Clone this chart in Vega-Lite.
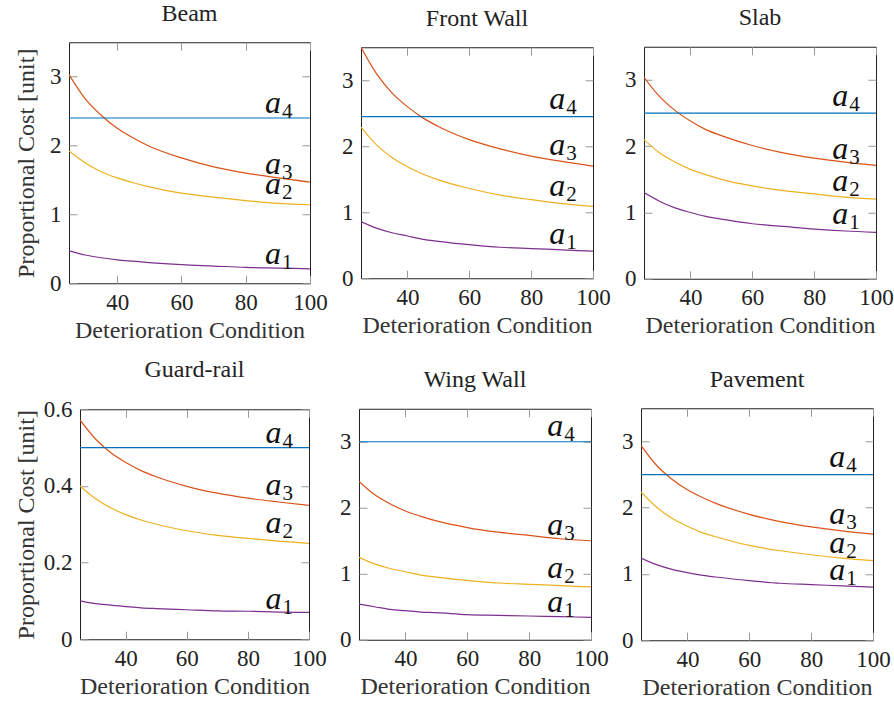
{
"$schema": "https://vega.github.io/schema/vega-lite/v6.json",
"background": "white",
"padding": {"left": 0, "top": 1, "right": 0, "bottom": 0},
"config": {
  "font": "Liberation Serif",
  "view": {"stroke": "#222222", "strokeWidth": 1},
  "axis": {"domain": false, "grid": false, "ticks": true, "offset": -8, "tickColor": "#999999", "tickSize": 8, "tickWidth": 1, "labelFont": "Liberation Serif", "labelFontSize": 23, "labelColor": "#222222", "labelFlush": false, "labelOverlap": false, "titleFont": "Liberation Serif", "titleFontSize": 24, "titleFontWeight": "normal", "titleColor": "#333333"},
  "axisX": {"labelPadding": 8, "titlePadding": 4},
  "axisY": {"labelPadding": 8, "titlePadding": 11},
  "title": {"font": "Liberation Serif", "fontSize": 24, "fontWeight": "normal", "color": "#222222", "offset": 16}
},
"datasets": {
"curves": [
{"p":"Beam","s":"a3","x":25,"y":3.03},{"p":"Beam","s":"a3","x":30,"y":2.68},{"p":"Beam","s":"a3","x":35,"y":2.44},{"p":"Beam","s":"a3","x":40,"y":2.25},{"p":"Beam","s":"a3","x":45,"y":2.11},{"p":"Beam","s":"a3","x":50,"y":1.99},{"p":"Beam","s":"a3","x":60,"y":1.82},{"p":"Beam","s":"a3","x":70,"y":1.69},{"p":"Beam","s":"a3","x":80,"y":1.60},{"p":"Beam","s":"a3","x":90,"y":1.53},{"p":"Beam","s":"a3","x":100,"y":1.47},
{"p":"Beam","s":"a2","x":25,"y":1.92},{"p":"Beam","s":"a2","x":30,"y":1.75},{"p":"Beam","s":"a2","x":35,"y":1.62},{"p":"Beam","s":"a2","x":40,"y":1.53},{"p":"Beam","s":"a2","x":45,"y":1.46},{"p":"Beam","s":"a2","x":50,"y":1.40},{"p":"Beam","s":"a2","x":60,"y":1.31},{"p":"Beam","s":"a2","x":70,"y":1.25},{"p":"Beam","s":"a2","x":80,"y":1.20},{"p":"Beam","s":"a2","x":90,"y":1.16},{"p":"Beam","s":"a2","x":100,"y":1.14},
{"p":"Beam","s":"a1","x":25,"y":0.47},{"p":"Beam","s":"a1","x":30,"y":0.41},{"p":"Beam","s":"a1","x":35,"y":0.37},{"p":"Beam","s":"a1","x":40,"y":0.34},{"p":"Beam","s":"a1","x":45,"y":0.32},{"p":"Beam","s":"a1","x":50,"y":0.30},{"p":"Beam","s":"a1","x":60,"y":0.27},{"p":"Beam","s":"a1","x":70,"y":0.25},{"p":"Beam","s":"a1","x":80,"y":0.23},{"p":"Beam","s":"a1","x":90,"y":0.22},{"p":"Beam","s":"a1","x":100,"y":0.21},
{"p":"Beam","s":"a4","x":25,"y":2.4},{"p":"Beam","s":"a4","x":100,"y":2.4},
{"p":"FW","s":"a3","x":25,"y":3.5},{"p":"FW","s":"a3","x":30,"y":3.1},{"p":"FW","s":"a3","x":35,"y":2.81},{"p":"FW","s":"a3","x":40,"y":2.6},{"p":"FW","s":"a3","x":45,"y":2.43},{"p":"FW","s":"a3","x":50,"y":2.3},{"p":"FW","s":"a3","x":60,"y":2.1},{"p":"FW","s":"a3","x":70,"y":1.96},{"p":"FW","s":"a3","x":80,"y":1.85},{"p":"FW","s":"a3","x":90,"y":1.77},{"p":"FW","s":"a3","x":100,"y":1.7},
{"p":"FW","s":"a2","x":25,"y":2.29},{"p":"FW","s":"a2","x":30,"y":2.02},{"p":"FW","s":"a2","x":35,"y":1.83},{"p":"FW","s":"a2","x":40,"y":1.69},{"p":"FW","s":"a2","x":45,"y":1.58},{"p":"FW","s":"a2","x":50,"y":1.49},{"p":"FW","s":"a2","x":60,"y":1.36},{"p":"FW","s":"a2","x":70,"y":1.26},{"p":"FW","s":"a2","x":80,"y":1.19},{"p":"FW","s":"a2","x":90,"y":1.13},{"p":"FW","s":"a2","x":100,"y":1.09},
{"p":"FW","s":"a1","x":25,"y":0.86},{"p":"FW","s":"a1","x":30,"y":0.76},{"p":"FW","s":"a1","x":35,"y":0.69},{"p":"FW","s":"a1","x":40,"y":0.64},{"p":"FW","s":"a1","x":45,"y":0.59},{"p":"FW","s":"a1","x":50,"y":0.56},{"p":"FW","s":"a1","x":60,"y":0.51},{"p":"FW","s":"a1","x":70,"y":0.47},{"p":"FW","s":"a1","x":80,"y":0.45},{"p":"FW","s":"a1","x":90,"y":0.43},{"p":"FW","s":"a1","x":100,"y":0.41},
{"p":"FW","s":"a4","x":25,"y":2.45},{"p":"FW","s":"a4","x":100,"y":2.45},
{"p":"Slab","s":"a3","x":25,"y":3.04},{"p":"Slab","s":"a3","x":30,"y":2.75},{"p":"Slab","s":"a3","x":35,"y":2.54},{"p":"Slab","s":"a3","x":40,"y":2.38},{"p":"Slab","s":"a3","x":45,"y":2.25},{"p":"Slab","s":"a3","x":50,"y":2.16},{"p":"Slab","s":"a3","x":60,"y":2.01},{"p":"Slab","s":"a3","x":70,"y":1.90},{"p":"Slab","s":"a3","x":80,"y":1.82},{"p":"Slab","s":"a3","x":90,"y":1.76},{"p":"Slab","s":"a3","x":100,"y":1.71},
{"p":"Slab","s":"a2","x":25,"y":2.1},{"p":"Slab","s":"a2","x":30,"y":1.9},{"p":"Slab","s":"a2","x":35,"y":1.76},{"p":"Slab","s":"a2","x":40,"y":1.65},{"p":"Slab","s":"a2","x":45,"y":1.57},{"p":"Slab","s":"a2","x":50,"y":1.5},{"p":"Slab","s":"a2","x":60,"y":1.4},{"p":"Slab","s":"a2","x":70,"y":1.33},{"p":"Slab","s":"a2","x":80,"y":1.28},{"p":"Slab","s":"a2","x":90,"y":1.23},{"p":"Slab","s":"a2","x":100,"y":1.2},
{"p":"Slab","s":"a1","x":25,"y":1.3},{"p":"Slab","s":"a1","x":30,"y":1.17},{"p":"Slab","s":"a1","x":35,"y":1.07},{"p":"Slab","s":"a1","x":40,"y":1.0},{"p":"Slab","s":"a1","x":45,"y":0.94},{"p":"Slab","s":"a1","x":50,"y":0.9},{"p":"Slab","s":"a1","x":60,"y":0.83},{"p":"Slab","s":"a1","x":70,"y":0.79},{"p":"Slab","s":"a1","x":80,"y":0.75},{"p":"Slab","s":"a1","x":90,"y":0.72},{"p":"Slab","s":"a1","x":100,"y":0.7},
{"p":"Slab","s":"a4","x":25,"y":2.5},{"p":"Slab","s":"a4","x":100,"y":2.5},
{"p":"GR","s":"a3","x":25,"y":0.572},{"p":"GR","s":"a3","x":30,"y":0.523},{"p":"GR","s":"a3","x":35,"y":0.487},{"p":"GR","s":"a3","x":40,"y":0.461},{"p":"GR","s":"a3","x":45,"y":0.440},{"p":"GR","s":"a3","x":50,"y":0.424},{"p":"GR","s":"a3","x":60,"y":0.399},{"p":"GR","s":"a3","x":70,"y":0.381},{"p":"GR","s":"a3","x":80,"y":0.368},{"p":"GR","s":"a3","x":90,"y":0.358},{"p":"GR","s":"a3","x":100,"y":0.349},
{"p":"GR","s":"a2","x":25,"y":0.4},{"p":"GR","s":"a2","x":30,"y":0.367},{"p":"GR","s":"a2","x":35,"y":0.343},{"p":"GR","s":"a2","x":40,"y":0.325},{"p":"GR","s":"a2","x":45,"y":0.311},{"p":"GR","s":"a2","x":50,"y":0.3},{"p":"GR","s":"a2","x":60,"y":0.283},{"p":"GR","s":"a2","x":70,"y":0.271},{"p":"GR","s":"a2","x":80,"y":0.263},{"p":"GR","s":"a2","x":90,"y":0.256},{"p":"GR","s":"a2","x":100,"y":0.25},
{"p":"GR","s":"a1","x":25,"y":0.1},{"p":"GR","s":"a1","x":30,"y":0.093},{"p":"GR","s":"a1","x":35,"y":0.089},{"p":"GR","s":"a1","x":40,"y":0.085},{"p":"GR","s":"a1","x":45,"y":0.082},{"p":"GR","s":"a1","x":50,"y":0.08},{"p":"GR","s":"a1","x":60,"y":0.077},{"p":"GR","s":"a1","x":70,"y":0.074},{"p":"GR","s":"a1","x":80,"y":0.073},{"p":"GR","s":"a1","x":90,"y":0.071},{"p":"GR","s":"a1","x":100,"y":0.07},
{"p":"GR","s":"a4","x":25,"y":0.5},{"p":"GR","s":"a4","x":100,"y":0.5},
{"p":"WW","s":"a3","x":25,"y":2.4},{"p":"WW","s":"a3","x":30,"y":2.2},{"p":"WW","s":"a3","x":35,"y":2.06},{"p":"WW","s":"a3","x":40,"y":1.95},{"p":"WW","s":"a3","x":45,"y":1.87},{"p":"WW","s":"a3","x":50,"y":1.8},{"p":"WW","s":"a3","x":60,"y":1.7},{"p":"WW","s":"a3","x":70,"y":1.63},{"p":"WW","s":"a3","x":80,"y":1.58},{"p":"WW","s":"a3","x":90,"y":1.53},{"p":"WW","s":"a3","x":100,"y":1.5},
{"p":"WW","s":"a2","x":25,"y":1.25},{"p":"WW","s":"a2","x":30,"y":1.15},{"p":"WW","s":"a2","x":35,"y":1.08},{"p":"WW","s":"a2","x":40,"y":1.03},{"p":"WW","s":"a2","x":45,"y":0.98},{"p":"WW","s":"a2","x":50,"y":0.95},{"p":"WW","s":"a2","x":60,"y":0.9},{"p":"WW","s":"a2","x":70,"y":0.86},{"p":"WW","s":"a2","x":80,"y":0.84},{"p":"WW","s":"a2","x":90,"y":0.82},{"p":"WW","s":"a2","x":100,"y":0.8},
{"p":"WW","s":"a1","x":25,"y":0.54},{"p":"WW","s":"a1","x":30,"y":0.50},{"p":"WW","s":"a1","x":35,"y":0.46},{"p":"WW","s":"a1","x":40,"y":0.44},{"p":"WW","s":"a1","x":45,"y":0.42},{"p":"WW","s":"a1","x":50,"y":0.41},{"p":"WW","s":"a1","x":60,"y":0.38},{"p":"WW","s":"a1","x":70,"y":0.37},{"p":"WW","s":"a1","x":80,"y":0.36},{"p":"WW","s":"a1","x":90,"y":0.35},{"p":"WW","s":"a1","x":100,"y":0.34},
{"p":"WW","s":"a4","x":25,"y":3.0},{"p":"WW","s":"a4","x":100,"y":3.0},
{"p":"Pav","s":"a3","x":25,"y":2.94},{"p":"Pav","s":"a3","x":30,"y":2.64},{"p":"Pav","s":"a3","x":35,"y":2.43},{"p":"Pav","s":"a3","x":40,"y":2.27},{"p":"Pav","s":"a3","x":45,"y":2.15},{"p":"Pav","s":"a3","x":50,"y":2.05},{"p":"Pav","s":"a3","x":60,"y":1.90},{"p":"Pav","s":"a3","x":70,"y":1.79},{"p":"Pav","s":"a3","x":80,"y":1.71},{"p":"Pav","s":"a3","x":90,"y":1.65},{"p":"Pav","s":"a3","x":100,"y":1.60},
{"p":"Pav","s":"a2","x":25,"y":2.24},{"p":"Pav","s":"a2","x":30,"y":2.01},{"p":"Pav","s":"a2","x":35,"y":1.84},{"p":"Pav","s":"a2","x":40,"y":1.72},{"p":"Pav","s":"a2","x":45,"y":1.62},{"p":"Pav","s":"a2","x":50,"y":1.55},{"p":"Pav","s":"a2","x":60,"y":1.43},{"p":"Pav","s":"a2","x":70,"y":1.35},{"p":"Pav","s":"a2","x":80,"y":1.29},{"p":"Pav","s":"a2","x":90,"y":1.24},{"p":"Pav","s":"a2","x":100,"y":1.20},
{"p":"Pav","s":"a1","x":25,"y":1.24},{"p":"Pav","s":"a1","x":30,"y":1.14},{"p":"Pav","s":"a1","x":35,"y":1.07},{"p":"Pav","s":"a1","x":40,"y":1.02},{"p":"Pav","s":"a1","x":45,"y":0.98},{"p":"Pav","s":"a1","x":50,"y":0.95},{"p":"Pav","s":"a1","x":60,"y":0.90},{"p":"Pav","s":"a1","x":70,"y":0.86},{"p":"Pav","s":"a1","x":80,"y":0.84},{"p":"Pav","s":"a1","x":90,"y":0.82},{"p":"Pav","s":"a1","x":100,"y":0.80},
{"p":"Pav","s":"a4","x":25,"y":2.5},{"p":"Pav","s":"a4","x":100,"y":2.5}
],
"labels": [
{"p":"Beam","n":"4","x":91,"y":2.47},{"p":"Beam","n":"3","x":91,"y":1.59},{"p":"Beam","n":"2","x":91,"y":1.30},{"p":"Beam","n":"1","x":91,"y":0.285},
{"p":"FW","n":"4","x":91,"y":2.56},{"p":"FW","n":"3","x":91,"y":1.87},{"p":"FW","n":"2","x":91,"y":1.25},{"p":"FW","n":"1","x":91,"y":0.515},
{"p":"Slab","n":"4","x":91,"y":2.61},{"p":"Slab","n":"3","x":91,"y":1.81},{"p":"Slab","n":"2","x":91,"y":1.32},{"p":"Slab","n":"1","x":91,"y":0.83},
{"p":"GR","n":"4","x":91,"y":0.511},{"p":"GR","n":"3","x":91,"y":0.376},{"p":"GR","n":"2","x":91,"y":0.278},{"p":"GR","n":"1","x":91,"y":0.080},
{"p":"WW","n":"4","x":91,"y":3.08},{"p":"WW","n":"3","x":91,"y":1.59},{"p":"WW","n":"2","x":91,"y":0.93},{"p":"WW","n":"1","x":91,"y":0.42},
{"p":"Pav","n":"4","x":91,"y":2.61},{"p":"Pav","n":"3","x":91,"y":1.75},{"p":"Pav","n":"2","x":91,"y":1.31},{"p":"Pav","n":"1","x":91,"y":0.91}
],
"blank": [{"t": " "}]
},
"spacing": 14,
"vconcat": [
{"hconcat": [
 {"width": 1, "height": 1, "data": {"name": "blank"}, "mark": {"type": "text"}, "encoding": {"text": {"field": "t"}}, "view": {"stroke": null}},
 {"title": "Beam", "width": 241, "height": 241,
  "layer": [
   {"data": {"name": "curves"}, "transform": [{"filter": "datum.p === 'Beam'"}],
    "mark": {"type": "line", "interpolate": "monotone", "strokeWidth": 1.2, "clip": true},
    "encoding": {
     "x": {"field": "x", "type": "quantitative", "scale": {"domain": [25, 100], "nice": false, "zero": false}, "axis": {"values": [40, 60, 80, 100], "title": "Deterioration Condition"}},
     "y": {"field": "y", "type": "quantitative", "scale": {"domain": [0, 3.5], "nice": false}, "axis": {"values": [0, 1, 2, 3], "title": "Proportional Cost [unit]", "titlePadding": 11}},
     "color": {"field": "s", "type": "nominal", "scale": {"domain": ["a1", "a2", "a3", "a4"], "range": ["#7E2F8E", "#EDB120", "#D95319", "#0072BD"]}, "legend": null}}},
   {"data": {"name": "labels"}, "transform": [{"filter": "datum.p === 'Beam'"}],
    "mark": {"type": "text", "align": "right", "baseline": "alphabetic", "fontStyle": "italic", "fontSize": 32, "color": "#111111"},
    "encoding": {
     "x": {"field": "x", "type": "quantitative", "axis": {"orient": "top", "values": [40, 60, 80, 100], "labels": false, "title": null}},
     "y": {"field": "y", "type": "quantitative", "axis": {"orient": "right", "values": [0, 1, 2, 3], "labels": false, "title": null}},
     "text": {"value": "a"}}},
   {"data": {"name": "labels"}, "transform": [{"filter": "datum.p === 'Beam'"}],
    "mark": {"type": "text", "align": "left", "baseline": "alphabetic", "fontSize": 21, "dx": 1, "dy": 5, "color": "#111111"},
    "encoding": {
     "x": {"field": "x", "type": "quantitative", "axis": null},
     "y": {"field": "y", "type": "quantitative", "axis": null},
     "text": {"field": "n"}}}
  ],
  "resolve": {"axis": {"x": "independent", "y": "independent"}}},
 {"title": "Front Wall", "width": 232, "height": 231,
  "layer": [
   {"data": {"name": "curves"}, "transform": [{"filter": "datum.p === 'FW'"}],
    "mark": {"type": "line", "interpolate": "monotone", "strokeWidth": 1.2, "clip": true},
    "encoding": {
     "x": {"field": "x", "type": "quantitative", "scale": {"domain": [25, 100], "nice": false, "zero": false}, "axis": {"values": [40, 60, 80, 100], "title": "Deterioration Condition"}},
     "y": {"field": "y", "type": "quantitative", "scale": {"domain": [0, 3.5], "nice": false}, "axis": {"values": [0, 1, 2, 3], "title": null}},
     "color": {"field": "s", "type": "nominal", "scale": {"domain": ["a1", "a2", "a3", "a4"], "range": ["#7E2F8E", "#EDB120", "#D95319", "#0072BD"]}, "legend": null}}},
   {"data": {"name": "labels"}, "transform": [{"filter": "datum.p === 'FW'"}],
    "mark": {"type": "text", "align": "right", "baseline": "alphabetic", "fontStyle": "italic", "fontSize": 32, "color": "#111111"},
    "encoding": {
     "x": {"field": "x", "type": "quantitative", "axis": {"orient": "top", "values": [40, 60, 80, 100], "labels": false, "title": null}},
     "y": {"field": "y", "type": "quantitative", "axis": {"orient": "right", "values": [0, 1, 2, 3], "labels": false, "title": null}},
     "text": {"value": "a"}}},
   {"data": {"name": "labels"}, "transform": [{"filter": "datum.p === 'FW'"}],
    "mark": {"type": "text", "align": "left", "baseline": "alphabetic", "fontSize": 21, "dx": 1, "dy": 5, "color": "#111111"},
    "encoding": {
     "x": {"field": "x", "type": "quantitative", "axis": null},
     "y": {"field": "y", "type": "quantitative", "axis": null},
     "text": {"field": "n"}}}
  ],
  "resolve": {"axis": {"x": "independent", "y": "independent"}}},
 {"title": "Slab", "width": 232, "height": 232,
  "layer": [
   {"data": {"name": "curves"}, "transform": [{"filter": "datum.p === 'Slab'"}],
    "mark": {"type": "line", "interpolate": "monotone", "strokeWidth": 1.2, "clip": true},
    "encoding": {
     "x": {"field": "x", "type": "quantitative", "scale": {"domain": [25, 100], "nice": false, "zero": false}, "axis": {"values": [40, 60, 80, 100], "title": "Deterioration Condition"}},
     "y": {"field": "y", "type": "quantitative", "scale": {"domain": [0, 3.5], "nice": false}, "axis": {"values": [0, 1, 2, 3], "title": null}},
     "color": {"field": "s", "type": "nominal", "scale": {"domain": ["a1", "a2", "a3", "a4"], "range": ["#7E2F8E", "#EDB120", "#D95319", "#0072BD"]}, "legend": null}}},
   {"data": {"name": "labels"}, "transform": [{"filter": "datum.p === 'Slab'"}],
    "mark": {"type": "text", "align": "right", "baseline": "alphabetic", "fontStyle": "italic", "fontSize": 32, "color": "#111111"},
    "encoding": {
     "x": {"field": "x", "type": "quantitative", "axis": {"orient": "top", "values": [40, 60, 80, 100], "labels": false, "title": null}},
     "y": {"field": "y", "type": "quantitative", "axis": {"orient": "right", "values": [0, 1, 2, 3], "labels": false, "title": null}},
     "text": {"value": "a"}}},
   {"data": {"name": "labels"}, "transform": [{"filter": "datum.p === 'Slab'"}],
    "mark": {"type": "text", "align": "left", "baseline": "alphabetic", "fontSize": 21, "dx": 1, "dy": 5, "color": "#111111"},
    "encoding": {
     "x": {"field": "x", "type": "quantitative", "axis": null},
     "y": {"field": "y", "type": "quantitative", "axis": null},
     "text": {"field": "n"}}}
  ],
  "resolve": {"axis": {"x": "independent", "y": "independent"}}}
 ], "center": true, "spacing": 13},
{"hconcat": [
 {"width": 1, "height": 1, "data": {"name": "blank"}, "mark": {"type": "text"}, "encoding": {"text": {"field": "t"}}, "view": {"stroke": null}},
 {"title": "Guard-rail", "width": 229, "height": 230,
  "layer": [
   {"data": {"name": "curves"}, "transform": [{"filter": "datum.p === 'GR'"}],
    "mark": {"type": "line", "interpolate": "monotone", "strokeWidth": 1.2, "clip": true},
    "encoding": {
     "x": {"field": "x", "type": "quantitative", "scale": {"domain": [25, 100], "nice": false, "zero": false}, "axis": {"values": [40, 60, 80, 100], "title": "Deterioration Condition"}},
     "y": {"field": "y", "type": "quantitative", "scale": {"domain": [0, 0.6], "nice": false}, "axis": {"values": [0, 0.2, 0.4, 0.6], "labelExpr": "datum.value == 0 ? '0' : format(datum.value, '.1f')", "title": "Proportional Cost [unit]", "titlePadding": 5}},
     "color": {"field": "s", "type": "nominal", "scale": {"domain": ["a1", "a2", "a3", "a4"], "range": ["#7E2F8E", "#EDB120", "#D95319", "#0072BD"]}, "legend": null}}},
   {"data": {"name": "labels"}, "transform": [{"filter": "datum.p === 'GR'"}],
    "mark": {"type": "text", "align": "right", "baseline": "alphabetic", "fontStyle": "italic", "fontSize": 32, "color": "#111111"},
    "encoding": {
     "x": {"field": "x", "type": "quantitative", "axis": {"orient": "top", "values": [40, 60, 80, 100], "labels": false, "title": null}},
     "y": {"field": "y", "type": "quantitative", "axis": {"orient": "right", "values": [0, 0.2, 0.4, 0.6], "labels": false, "title": null}},
     "text": {"value": "a"}}},
   {"data": {"name": "labels"}, "transform": [{"filter": "datum.p === 'GR'"}],
    "mark": {"type": "text", "align": "left", "baseline": "alphabetic", "fontSize": 21, "dx": 1, "dy": 5, "color": "#111111"},
    "encoding": {
     "x": {"field": "x", "type": "quantitative", "axis": null},
     "y": {"field": "y", "type": "quantitative", "axis": null},
     "text": {"field": "n"}}}
  ],
  "resolve": {"axis": {"x": "independent", "y": "independent"}}},
 {"title": "Wing Wall", "width": 232, "height": 231,
  "layer": [
   {"data": {"name": "curves"}, "transform": [{"filter": "datum.p === 'WW'"}],
    "mark": {"type": "line", "interpolate": "monotone", "strokeWidth": 1.2, "clip": true},
    "encoding": {
     "x": {"field": "x", "type": "quantitative", "scale": {"domain": [25, 100], "nice": false, "zero": false}, "axis": {"values": [40, 60, 80, 100], "title": "Deterioration Condition"}},
     "y": {"field": "y", "type": "quantitative", "scale": {"domain": [0, 3.5], "nice": false}, "axis": {"values": [0, 1, 2, 3], "title": null}},
     "color": {"field": "s", "type": "nominal", "scale": {"domain": ["a1", "a2", "a3", "a4"], "range": ["#7E2F8E", "#EDB120", "#D95319", "#0072BD"]}, "legend": null}}},
   {"data": {"name": "labels"}, "transform": [{"filter": "datum.p === 'WW'"}],
    "mark": {"type": "text", "align": "right", "baseline": "alphabetic", "fontStyle": "italic", "fontSize": 32, "color": "#111111"},
    "encoding": {
     "x": {"field": "x", "type": "quantitative", "axis": {"orient": "top", "values": [40, 60, 80, 100], "labels": false, "title": null}},
     "y": {"field": "y", "type": "quantitative", "axis": {"orient": "right", "values": [0, 1, 2, 3], "labels": false, "title": null}},
     "text": {"value": "a"}}},
   {"data": {"name": "labels"}, "transform": [{"filter": "datum.p === 'WW'"}],
    "mark": {"type": "text", "align": "left", "baseline": "alphabetic", "fontSize": 21, "dx": 1, "dy": 5, "color": "#111111"},
    "encoding": {
     "x": {"field": "x", "type": "quantitative", "axis": null},
     "y": {"field": "y", "type": "quantitative", "axis": null},
     "text": {"field": "n"}}}
  ],
  "resolve": {"axis": {"x": "independent", "y": "independent"}}},
 {"title": "Pavement", "width": 232, "height": 232,
  "layer": [
   {"data": {"name": "curves"}, "transform": [{"filter": "datum.p === 'Pav'"}],
    "mark": {"type": "line", "interpolate": "monotone", "strokeWidth": 1.2, "clip": true},
    "encoding": {
     "x": {"field": "x", "type": "quantitative", "scale": {"domain": [25, 100], "nice": false, "zero": false}, "axis": {"values": [40, 60, 80, 100], "title": "Deterioration Condition"}},
     "y": {"field": "y", "type": "quantitative", "scale": {"domain": [0, 3.5], "nice": false}, "axis": {"values": [0, 1, 2, 3], "title": null}},
     "color": {"field": "s", "type": "nominal", "scale": {"domain": ["a1", "a2", "a3", "a4"], "range": ["#7E2F8E", "#EDB120", "#D95319", "#0072BD"]}, "legend": null}}},
   {"data": {"name": "labels"}, "transform": [{"filter": "datum.p === 'Pav'"}],
    "mark": {"type": "text", "align": "right", "baseline": "alphabetic", "fontStyle": "italic", "fontSize": 32, "color": "#111111"},
    "encoding": {
     "x": {"field": "x", "type": "quantitative", "axis": {"orient": "top", "values": [40, 60, 80, 100], "labels": false, "title": null}},
     "y": {"field": "y", "type": "quantitative", "axis": {"orient": "right", "values": [0, 1, 2, 3], "labels": false, "title": null}},
     "text": {"value": "a"}}},
   {"data": {"name": "labels"}, "transform": [{"filter": "datum.p === 'Pav'"}],
    "mark": {"type": "text", "align": "left", "baseline": "alphabetic", "fontSize": 21, "dx": 1, "dy": 5, "color": "#111111"},
    "encoding": {
     "x": {"field": "x", "type": "quantitative", "axis": null},
     "y": {"field": "y", "type": "quantitative", "axis": null},
     "text": {"field": "n"}}}
  ],
  "resolve": {"axis": {"x": "independent", "y": "independent"}}}
 ], "center": true, "spacing": 12}
]
}
